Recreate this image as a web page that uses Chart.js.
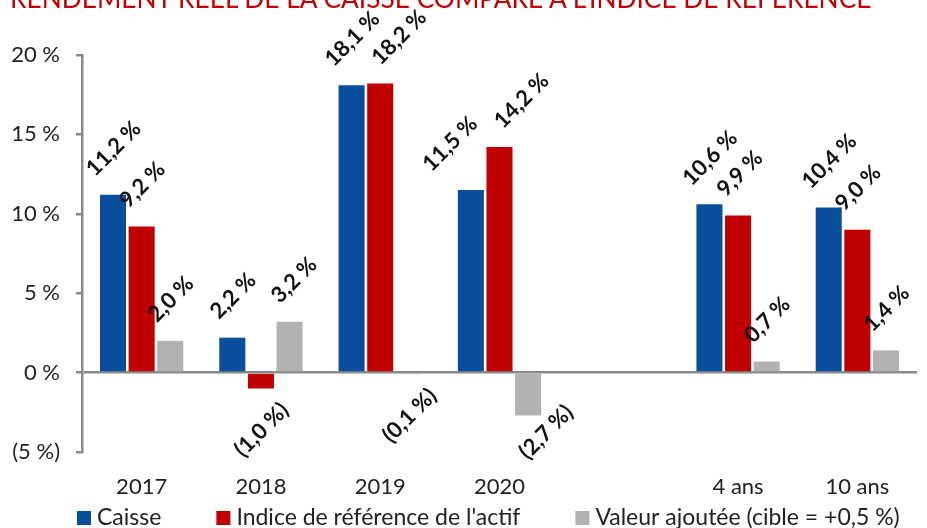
<!DOCTYPE html>
<html lang="fr">
<head>
<meta charset="utf-8">
<title>Rendement réel de la Caisse</title>
<script src="https://cdn.jsdelivr.net/npm/chart.js@4.4.1/dist/chart.umd.min.js"></script>
<style>
  html, body { margin: 0; padding: 0; background: #fff; }
  #wrap { position: relative; width: 927px; height: 528px; overflow: hidden; }
  #title { position: absolute; left: 10px; top: -18px; font: 26.3px Lato, sans-serif; color: #C00000; white-space: nowrap; }
  canvas { position: absolute; left: 0; top: 0; }
</style>
</head>
<body>
<div id="wrap">
  <canvas id="chart" width="927" height="528"></canvas>
  <div id="title">RENDEMENT RÉEL DE LA CAISSE COMPARÉ À L'INDICE DE RÉFÉRENCE</div>
</div>
<script>
const categories = ['2017', '2018', '2019', '2020', '', '4 ans', '10 ans'];
const caisse = [11.2, 2.2, 18.1, 11.5, null, 10.6, 10.4];
const indice = [9.2, -1.0, 18.2, 14.2, null, 9.9, 9.0];
const valeurAjoutee = [2.0, 3.2, -0.1, -2.7, null, 0.7, 1.4];
const seriesNames = ['Caisse', "Indice de référence de l'actif", 'Valeur ajoutée (cible = +0,5 %)'];
const seriesColors = ['#0A4F9C', '#C00000', '#B2B2B2'];
const yMin = -5, yMax = 20, yStep = 5;

const FONT = 'Lato, "Liberation Sans", sans-serif';
const AXIS_GREY = '#8A8A8A';

function fmt(v, dec) {
    const s = Math.abs(v).toFixed(dec).replace('.', ',') + ' %';
    return v < 0 ? '(' + s + ')' : s;
}

// étiquettes penchées à 45°, centrées au-dessus (ou sous) chaque barre
const rotatedLabels = {
    id: 'rotatedLabels',
    afterDatasetsDraw(chart) {
        const ctx = chart.ctx;
        const area = chart.chartArea;
        const h = 15; // hauteur approx. des chiffres
        const R = Math.SQRT1_2;
        ctx.save();
        ctx.font = 'bold 22px ' + FONT;
        ctx.fillStyle = '#111';
        ctx.textAlign = 'center';
        ctx.textBaseline = 'middle';

        const groups = {};
        chart.data.datasets.forEach((ds, i) => {
            chart.getDatasetMeta(i).data.forEach((bar, j) => {
                const v = ds.data[j];
                if (v === null || v === undefined) return;
                const text = fmt(v, 1);
                const w = ctx.measureText(text).width;
                const box = (w + h) * R;
                let cx = bar.x, cy;
                if (v >= 0) {
                    cy = bar.y - 18 - box / 2;
                } else {
                    cy = bar.y + 12 + box / 2;
                    const over = cy + box / 2 - (area.bottom + 8);
                    if (over > 0) { cy -= over; cx += over * 0.7; }
                }
                (groups[j] = groups[j] || []).push({ text, w, cx, cy });
            });
        });

        // écarter horizontalement les étiquettes voisines trop serrées
        Object.values(groups).forEach(list => {
            for (let m = 1; m < list.length; m++) {
                for (let k = 0; k < m; k++) {
                    const a = list[k], b = list[m];
                    const du = ((b.cx - b.cy) - (a.cx - a.cy)) * R;
                    const dv = ((b.cx + b.cy) - (a.cx + a.cy)) * R;
                    const need = (a.w + b.w) / 2 + 14;
                    if (Math.abs(dv) < h + 2 && du < need) {
                        const t = (need - du) / R / 2;
                        a.cx -= t; b.cx += t;
                    } else if (dv > 0 && dv < 32 && Math.abs(du) < need) {
                        b.cx += (32 - dv) / R;
                    }
                }
            }
            list.forEach(l => {
                ctx.save();
                ctx.translate(l.cx, l.cy);
                ctx.rotate(-Math.PI / 4);
                ctx.fillText(l.text, 0, 1);
                ctx.restore();
            });
        });
        ctx.restore();
    }
};

// légende dessinée à la main pour garder de larges espaces entre les séries
const bottomLegend = {
    id: 'bottomLegend',
    afterDraw(chart) {
        const ctx = chart.ctx;
        const y = 518;
        let x = chart.chartArea.left - 5;
        ctx.save();
        ctx.font = '23px ' + FONT;
        ctx.textAlign = 'left';
        ctx.textBaseline = 'middle';
        chart.data.datasets.forEach(ds => {
            ctx.fillStyle = ds.backgroundColor;
            ctx.fillRect(x, y - 7, 14, 14);
            x += 20;
            ctx.fillStyle = '#222';
            ctx.fillText(ds.label, x, y);
            x += ctx.measureText(ds.label).width + 55;
        });
        ctx.restore();
    }
};

const datasets = [caisse, indice, valeurAjoutee].map((d, i) => ({
    label: seriesNames[i],
    data: d,
    backgroundColor: seriesColors[i],
    borderWidth: 0,
    barPercentage: 0.91,
    categoryPercentage: 0.72
}));

new Chart(document.getElementById('chart'), {
    type: 'bar',
    data: { labels: categories, datasets: datasets },
    plugins: [rotatedLabels, bottomLegend],
    options: {
        responsive: false,
        animation: false,
        layout: { padding: { left: 0, right: 10, top: 55, bottom: 16 } },
        plugins: {
            tooltip: { enabled: false },
            legend: { display: false }
        },
        scales: {
            x: {
                grid: { display: false, drawTicks: false },
                border: { display: false },
                ticks: { font: { family: FONT, size: 22 }, color: '#222', padding: 22 },
                afterFit: s => { s.height = 60; }
            },
            y: {
                min: yMin,
                max: yMax,
                ticks: {
                    stepSize: yStep,
                    font: { family: FONT, size: 22 },
                    color: '#222',
                    padding: 16,
                    callback: v => fmt(v, 0)
                },
                grid: {
                    drawOnChartArea: true,
                    color: c => (c.tick && c.tick.value === 0 ? AXIS_GREY : 'rgba(0,0,0,0)'),
                    lineWidth: 2.5,
                    tickColor: AXIS_GREY,
                    tickLength: 6
                },
                border: { color: AXIS_GREY, width: 2.5 },
                afterFit: s => { s.width = 82; }
            }
        }
    }
});
</script>
</body>
</html>
